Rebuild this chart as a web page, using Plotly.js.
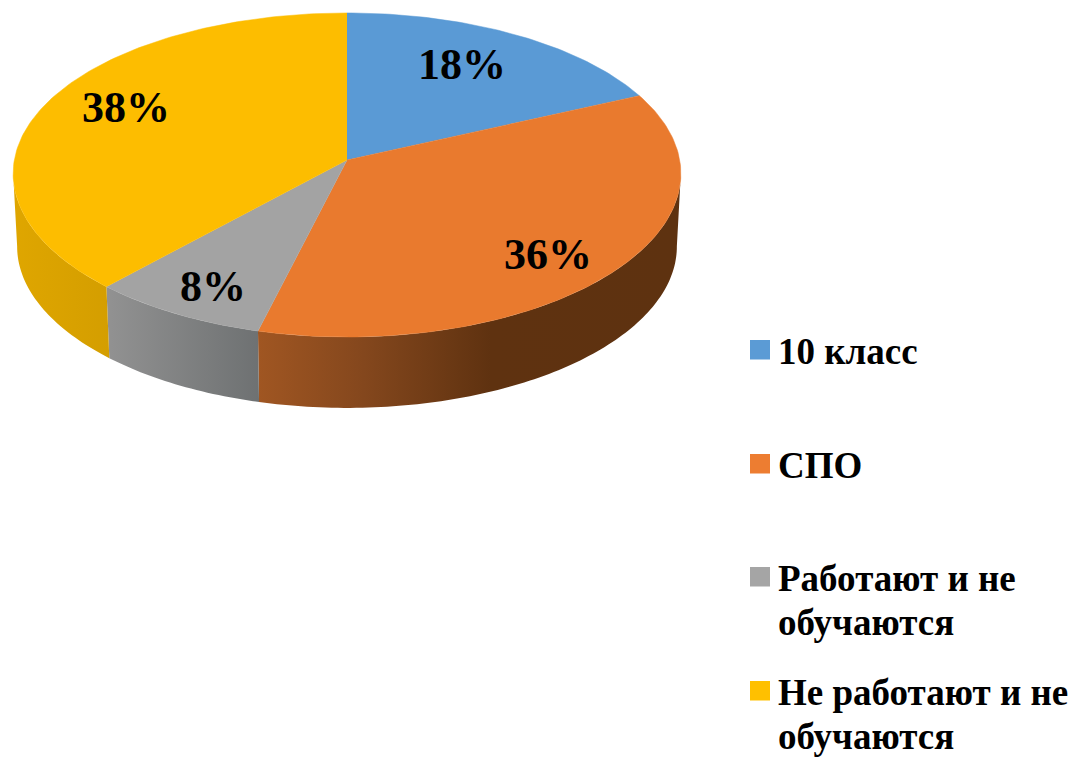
<!DOCTYPE html>
<html>
<head>
<meta charset="utf-8">
<script src="https://cdn.plot.ly/plotly-3.0.1.min.js"></script>
<style>html,body{margin:0;padding:0;background:#fff}#chart{width:1076px;height:757px}</style>
</head>
<body>
<div id="chart"></div>
<script>
// Data
const categories = ["10 класс", "СПО", "Работают и не обучаются", "Не работают и не обучаются"];
const values = [18, 36, 8, 38];
const legendLines = [["10 класс"], ["СПО"], ["Работают и не", "обучаются"], ["Не работают и не", "обучаются"]];

// Styles
const topColors = ["#5A9AD5", "#E97A2E", "#A3A3A3", "#FDBD00"];
const swatchColors = ["#5B9BD5", "#ED7D31", "#A5A5A5", "#FFC000"];
const wallColors = [
  [[0, "#3d6a93"], [1, "#3d6a93"]],
  [[0, "#A05622"], [0.25, "#84471D"], [0.55, "#5F3210"], [1, "#5E3210"]],
  [[0, "#929292"], [1, "#6E7172"]],
  [[0, "#DFA600"], [1, "#D49E00"]]
];
const FONT = "Liberation Serif, Times New Roman, serif";

// Projection of the tilted disc (pixel-valued axes)
const cx = 347, tipY = 160, rimY = 162, rx = 333, ry = 161, kx = 0.072, ky = 0.08, depth = 73, shrink = 0.988;
function project(deg, bottom) {
  const t = deg * Math.PI / 180, s = Math.sin(t), c = Math.cos(t);
  const f = bottom ? shrink : 1;
  return [cx + f * rx * s / (1 + kx * c), rimY + (bottom ? depth : 0) - f * ry * c / (1 + ky * c)];
}
function arc(a, b, bottom) {
  const pts = [], n = Math.max(2, Math.ceil(Math.abs(b - a)));
  for (let i = 0; i <= n; i++) pts.push(project(a + (b - a) * i / n, bottom));
  return pts;
}
const total = values.reduce((p, v) => p + v, 0);
let acc = 0;
const spans = values.map(v => { const a = acc / total * 360; acc += v; return [a, acc / total * 360]; });

const wallFrom = 94, wallTo = 266;
const traces = [];
spans.forEach((sp, i) => {
  const a = Math.max(sp[0], wallFrom), b = Math.min(sp[1], wallTo);
  if (b <= a) return;
  const pts = arc(a, b, false).concat(arc(b, a, true));
  const xs = pts.map(p => p[0]), ys = pts.map(p => p[1]);
  traces.push({
    type: "scatter", mode: "none", x: xs, y: ys, fill: "toself",
    fillgradient: {
      type: "horizontal",
      colorscale: wallColors[i],
      start: Math.min(...xs), stop: Math.max(...xs)
    },
    hoverinfo: "skip", showlegend: false, name: categories[i] + " (бок)"
  });
});
spans.forEach((sp, i) => {
  const pts = [[cx, tipY]].concat(arc(sp[0], sp[1], false));
  traces.push({
    type: "scatter", mode: "lines", x: pts.map(p => p[0]), y: pts.map(p => p[1]),
    fill: "toself", fillcolor: topColors[i], line: {color: topColors[i], width: 0.5},
    hoverinfo: "skip", showlegend: false, name: categories[i]
  });
});

// Text and legend
const labelAt = [[462, 64], [548, 254], [213, 286], [126, 107]];
const annotations = values.map((v, i) => ({
  xref: "x", yref: "y", x: labelAt[i][0], y: labelAt[i][1], text: "<b>" + v + "%</b>",
  showarrow: false, xanchor: "center", yanchor: "middle",
  font: {family: FONT, size: 44, color: "#000"}
}));
const legendY = [350, 464, 577, 691];
const shapes = [];
categories.forEach((c, i) => {
  shapes.push({
    type: "rect", xref: "x", yref: "y", x0: 750, x1: 770, y0: legendY[i] - 10, y1: legendY[i] + 9.5,
    fillcolor: swatchColors[i], line: {width: 0}
  });
  legendLines[i].forEach((line, j) => annotations.push({
    xref: "x", yref: "y", x: 778, y: legendY[i] + 1 + j * 44, text: "<b>" + line + "</b>",
    showarrow: false, xanchor: "left", yanchor: "middle", xshift: -2,
    font: {family: FONT, size: 37, color: "#000"}
  }));
});

Plotly.newPlot("chart", traces, {
  width: 1076, height: 757,
  margin: {l: 0, r: 0, t: 0, b: 0},
  paper_bgcolor: "#fff", plot_bgcolor: "#fff",
  xaxis: {range: [0, 1076], visible: false, fixedrange: true},
  yaxis: {range: [757, 0], visible: false, fixedrange: true},
  showlegend: false, annotations, shapes
}, {displayModeBar: false, staticPlot: true});
</script>
</body>
</html>
